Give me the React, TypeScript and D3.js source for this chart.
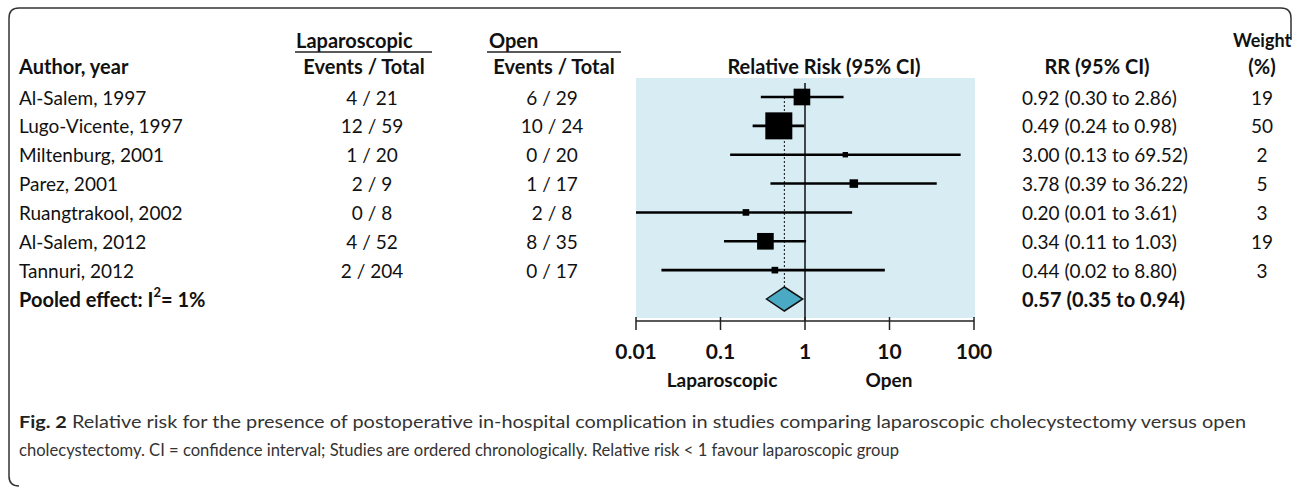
import * as d3 from "d3";

const studies = [
  "Al-Salem, 1997",
  "Lugo-Vicente, 1997",
  "Miltenburg, 2001",
  "Parez, 2001",
  "Ruangtrakool, 2002",
  "Al-Salem, 2012",
  "Tannuri, 2012",
];
const lapEvents = [4, 12, 1, 2, 0, 4, 2];
const lapTotal = [21, 59, 20, 9, 8, 52, 204];
const openEvents = [6, 10, 0, 1, 2, 8, 0];
const openTotal = [29, 24, 20, 17, 8, 35, 17];
const rr = [0.92, 0.49, 3.0, 3.78, 0.2, 0.34, 0.44];
const rrLow = [0.3, 0.24, 0.13, 0.39, 0.01, 0.11, 0.02];
const rrHigh = [2.86, 0.98, 69.52, 36.22, 3.61, 1.03, 8.8];
const weights = [19, 50, 2, 5, 3, 19, 3];
const pooled = [0.57, 0.35, 0.94];
const axisTicks = [0.01, 0.1, 1, 10, 100];

const W = 1292;
const H = 487;
const FONT = "Lato, 'Open Sans', sans-serif";
const TEXT = "#111";

const COL = { label: 19, lap: 372, open: 552, rr: 1022, weight: 1262 };

const fmt = (v: number) => v.toFixed(2);

export default function App() {
  const x = d3.scaleLog().domain([0.01, 100]).range([636, 974]);
  const y = d3
    .scalePoint<string>()
    .domain([...studies, "Pooled"])
    .range([97, 299]);
  const side = d3.scaleSqrt().domain([0, 50]).range([0, 27]);

  const plotTop = 78;
  const axisY = 321;
  const py = y("Pooled") ?? 0;
  const diamondH = 12;
  const diamond =
    d3.line()([
      [x(pooled[1]), py],
      [x(pooled[0]), py - diamondH],
      [x(pooled[2]), py],
      [x(pooled[0]), py + diamondH],
    ]) + "Z";

  return (
    <svg
      width={W}
      height={H}
      style={{ position: "absolute", left: 0, top: 0, background: "#fff" }}
      fontFamily={FONT}
    >
      {/* frame */}
      <path
        d="M1291,40 L1291,18 Q1291,8 1281,8 L19,8 Q9,8 9,18 L9,476 Q9,486 19,486"
        fill="none"
        stroke="#333"
        strokeWidth={1.5}
      />

      {/* headers */}
      <g fontWeight={700} fontSize={20} fill={TEXT}>
        <text x={COL.label} y={74}>Author, year</text>
        <text x={296} y={48}>Laparoscopic</text>
        <text x={364} y={74} textAnchor="middle">Events / Total</text>
        <text x={489} y={48}>Open</text>
        <text x={554} y={74} textAnchor="middle">Events / Total</text>
        <text x={824} y={74} textAnchor="middle">Relative Risk (95% CI)</text>
        <text x={1097} y={74} textAnchor="middle">RR (95% CI)</text>
        <text x={1262} y={47} textAnchor="middle" fontSize={18}>Weight</text>
        <text x={COL.weight} y={74} textAnchor="middle">(%)</text>
      </g>
      <line x1={295} x2={432} y1={52} y2={52} stroke="#222" strokeWidth={1.5} />
      <line x1={487} x2={621} y1={52} y2={52} stroke="#222" strokeWidth={1.5} />

      {/* plot background */}
      <rect x={636} y={plotTop} width={339} height={axisY - plotTop - 3} fill="#d8ecf3" />

      {/* reference lines */}
      <line x1={x(1)} x2={x(1)} y1={83} y2={axisY} stroke="#111" strokeWidth={1.5} />
      <line
        x1={x(pooled[0])}
        x2={x(pooled[0])}
        y1={y(studies[0])}
        y2={py - diamondH}
        stroke="#111"
        strokeWidth={1}
        strokeDasharray="2 2"
      />

      {/* studies */}
      {studies.map((s, i) => {
        const cy = y(s) ?? 0;
        const sz = side(weights[i]);
        return (
          <g key={s}>
            <line x1={x(rrLow[i])} x2={x(rrHigh[i])} y1={cy} y2={cy} stroke="#000" strokeWidth={2.6} />
            <rect x={x(rr[i]) - sz / 2} y={cy - sz / 2} width={sz} height={sz} fill="#000" />
            <g fontSize={19} fill={TEXT} dominantBaseline="central">
              <text x={COL.label} y={cy}>{s}</text>
              <text x={COL.lap} y={cy} textAnchor="middle">{`${lapEvents[i]} / ${lapTotal[i]}`}</text>
              <text x={COL.open} y={cy} textAnchor="middle">{`${openEvents[i]} / ${openTotal[i]}`}</text>
              <text x={COL.rr} y={cy}>{`${fmt(rr[i])} (${fmt(rrLow[i])} to ${fmt(rrHigh[i])})`}</text>
              <text x={COL.weight} y={cy} textAnchor="middle">{weights[i]}</text>
            </g>
          </g>
        );
      })}

      {/* pooled */}
      <path d={diamond} fill="#4aaac4" stroke="#111" strokeWidth={1.5} />
      <g fontSize={20} fontWeight={700} fill={TEXT} dominantBaseline="central">
        <text x={COL.label} y={py}>
          Pooled effect: I<tspan dy={-7} fontSize={13}>2</tspan>
          <tspan dy={7}>= 1%</tspan>
        </text>
        <text x={COL.rr} y={py}>{`${fmt(pooled[0])} (${fmt(pooled[1])} to ${fmt(pooled[2])})`}</text>
      </g>

      {/* axis */}
      <line x1={x(0.01)} x2={x(100)} y1={axisY} y2={axisY} stroke="#222" strokeWidth={1.5} />
      {axisTicks.map((t) => (
        <g key={t}>
          <line x1={x(t)} x2={x(t)} y1={axisY - 4} y2={axisY + 9} stroke="#222" strokeWidth={1.5} />
          <text
            x={x(t)}
            y={350}
            textAnchor="middle"
            dominantBaseline="central"
            fontSize={21}
            fontWeight={700}
            fill={TEXT}
          >
            {t}
          </text>
        </g>
      ))}
      <g fontSize={19} fontWeight={700} fill={TEXT} textAnchor="middle" dominantBaseline="central">
        <text x={722} y={379}>Laparoscopic</text>
        <text x={889} y={379}>Open</text>
      </g>

      {/* caption */}
      <g fontSize={17} fill="#333">
        <text x={19} y={428} textLength={1227} lengthAdjust="spacingAndGlyphs">
          <tspan fontWeight={700} fill="#222">Fig. 2</tspan> Relative risk for the presence of postoperative in-hospital complication in studies comparing laparoscopic cholecystectomy versus open
        </text>
        <text x={19} y={456} textLength={880} lengthAdjust="spacingAndGlyphs">
          cholecystectomy. CI = confidence interval; Studies are ordered chronologically. Relative risk &lt; 1 favour laparoscopic group
        </text>
      </g>
    </svg>
  );
}
